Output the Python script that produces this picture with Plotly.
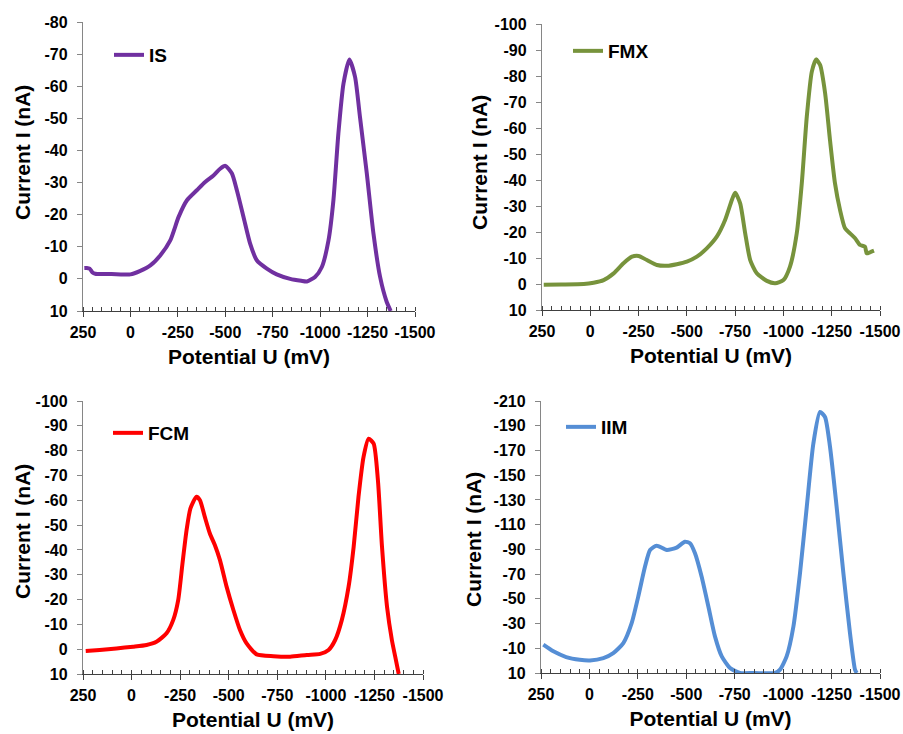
import plotly.graph_objects as go

# ---- data ----
is_x = [243, 230, 215, 200, 185, 150, 100, 50, 0, -52, -105, -157, -210, -254, -298, -350, -394,
        -438, -473, -500, -535, -561, -596, -631, -666, -719, -771, -842, -900, -930, -973, -1009,
        -1044, -1070, -1096, -1123, -1154, -1184, -1210, -1246, -1281, -1316, -1351, -1372]
is_y = [-3.4, -3.4, -3.2, -2.0, -1.6, -1.5, -1.5, -1.4, -1.4, -2.5, -4.2, -7.3, -12.0, -19.3, -24.5,
        -27.6, -30.2, -32.2, -34.3, -35.2, -32.8, -27.6, -19.3, -11.0, -5.8, -3.2, -1.4, 0.0, 0.6,
        0.8, -0.6, -3.7, -12.0, -24.5, -45.2, -60.8, -68.3, -62.9, -50.4, -32.8, -14.1, -0.6, 7.2, 10.0]

fmx_x = [241, 150, 34, -17, -69, -121, -172, -216, -250, -293, -345, -397, -448, -500, -552, -603,
         -655, -698, -733, -750, -776, -802, -828, -862, -914, -957, -1000, -1034, -1069, -1095,
         -1121, -1147, -1169, -1190, -1216, -1241, -1267, -1293, -1319, -1345, -1371, -1397, -1422,
         -1431, -1448, -1469]
fmx_y = [0.3, 0.2, 0.0, -0.5, -1.5, -4.1, -8.0, -10.5, -10.8, -9.2, -7.3, -7.0, -7.6, -8.6, -10.5,
         -13.7, -18.2, -24.6, -32.3, -35.1, -31.0, -19.5, -9.2, -4.1, -1.2, -0.3, -1.5, -6.7, -19.5,
         -38.7, -64.4, -81.7, -86.4, -84.2, -73.3, -55.4, -38.7, -28.5, -21.4, -19.5, -17.6, -15.0,
         -14.4, -11.8, -12.2, -12.8]

fcm_x = [236, 164, 78, -8, -77, -128, -180, -214, -240, -262, -283, -303, -334, -352, -377, -403,
         -429, -455, -489, -524, -558, -592, -644, -730, -816, -902, -971, -1014, -1048, -1082,
         -1117, -1143, -1168, -1194, -1220, -1246, -1268, -1289, -1315, -1340, -1357, -1375]
fcm_y = [0.7, 0.3, -0.3, -1.0, -1.7, -3.0, -6.4, -11.7, -19.8, -34.5, -47.9, -56.7, -61.4, -60.0,
         -53.3, -46.6, -41.9, -35.9, -25.2, -15.8, -7.7, -2.3, 2.1, 2.8, 3.0, 2.3, 1.9, 0.3, -3.7,
         -11.7, -25.2, -41.2, -61.4, -77.5, -84.8, -82.8, -68.0, -41.2, -17.0, -3.6, 3.0, 10.0]

iim_x = [238, 186, 120, 50, -3, -72, -123, -175, -218, -252, -287, -313, -347, -399, -450, -493,
         -519, -545, -579, -614, -648, -683, -726, -777, -850, -958, -984, -1018, -1053, -1087,
         -1122, -1156, -1190, -1216, -1242, -1276, -1311, -1345, -1371, -1380]
iim_y = [-12.9, -7.5, -2.9, -0.7, -0.2, -2.1, -6.1, -14.2, -30.3, -51.8, -76.1, -89.5, -93.0,
         -89.5, -91.4, -96.2, -94.9, -86.8, -68.0, -43.8, -19.6, -3.4, 6.0, 10.0, 10.0, 10.0, 7.3,
         -3.4, -27.6, -70.7, -124.5, -175.6, -201.1, -197.1, -172.9, -124.5, -70.7, -22.3, 7.3, 10.0]

names = ["IS", "FMX", "FCM", "IIM"]
colors = ["#7030A0", "#77933C", "#FF0000", "#558ED5"]
xs = [is_x, fmx_x, fcm_x, iim_x]
ys = [is_y, fmx_y, fcm_y, iim_y]
y_ticks = [list(range(10, -81, -10)), list(range(10, -101, -10)),
           list(range(10, -101, -10)), list(range(10, -211, -20))]
x_ticks = [250, 0, -250, -500, -750, -1000, -1250, -1500]
x_title = "Potential U (mV)"
y_title = "Current I (nA)"

W, H = 903, 734
# plot-area boxes in pixels: (left, right, top, bottom)
boxes = [(83, 415, 22, 311), (542, 880, 24, 310), (83, 423, 401, 674), (541, 880, 401, 673)]
legpos = [(109, 55), (568, 51), (108, 433), (561, 427)]
ytitle_pos = [(22, 153), (479, 162), (22, 532), (473, 540)]

FONT = "Liberation Sans"
fig = go.Figure()
annotations = []
for i in range(4):
    sfx = "" if i == 0 else str(i + 1)
    fig.add_trace(go.Scatter(
        x=xs[i], y=ys[i], mode="lines", name=names[i],
        line=dict(color=colors[i], width=4, shape="spline", smoothing=0.6),
        xaxis="x" + sfx, yaxis="y" + sfx, legend="legend" + sfx,
    ))
    l, r, t, b = boxes[i]
    axfont = dict(family=FONT, size=16, color="black", weight="bold")
    titlefont = dict(family=FONT, size=21, color="black", weight="bold")
    fig.update_layout(**{
        "xaxis" + sfx: dict(
            domain=[l / W, r / W], anchor="y" + sfx, range=[250, -1500], automargin=False,
            tickvals=x_ticks, ticktext=[str(v) for v in x_ticks],
            ticks="outside", ticklen=5, tickwidth=1.3, tickcolor="#404040",
            minor=dict(dtick=50, ticks="inside", ticklen=4, tickcolor="#404040", tickwidth=1),
            showline=True, linecolor="#404040", linewidth=1.3, showgrid=False, zeroline=False,
            tickfont=axfont, ticklabelstandoff=2,
            title=dict(text=x_title, font=titlefont, standoff=8),
        ),
        "yaxis" + sfx: dict(
            domain=[1 - b / H, 1 - t / H], anchor="x" + sfx, automargin=False,
            range=[10, -(abs(y_ticks[i][-1]))],
            tickvals=y_ticks[i], ticktext=[str(v) for v in y_ticks[i]],
            ticks="outside", ticklen=5, tickwidth=1, tickcolor="#868686",
            showline=True, linecolor="#868686", linewidth=1.3, showgrid=False, zeroline=False,
            tickfont=axfont, ticklabelstandoff=6,
        ),
        "legend" + sfx: dict(
            x=legpos[i][0] / W, y=1 - legpos[i][1] / H, xanchor="left", yanchor="middle",
            xref="paper", yref="paper", bgcolor="rgba(0,0,0,0)",
            font=dict(family=FONT, size=19, color="black", weight="bold"),
            itemwidth=30, tracegroupgap=0,
        ),
    })
    annotations.append(dict(
        text=y_title, textangle=-90, showarrow=False,
        x=ytitle_pos[i][0] / W, y=1 - ytitle_pos[i][1] / H, xref="paper", yref="paper",
        xanchor="center", yanchor="middle", font=titlefont,
    ))

fig.update_layout(
    width=W, height=H, margin=dict(l=0, r=0, t=0, b=0, autoexpand=False),
    paper_bgcolor="white", plot_bgcolor="white", showlegend=True,
    annotations=annotations,
)
fig.write_html("out.html")
